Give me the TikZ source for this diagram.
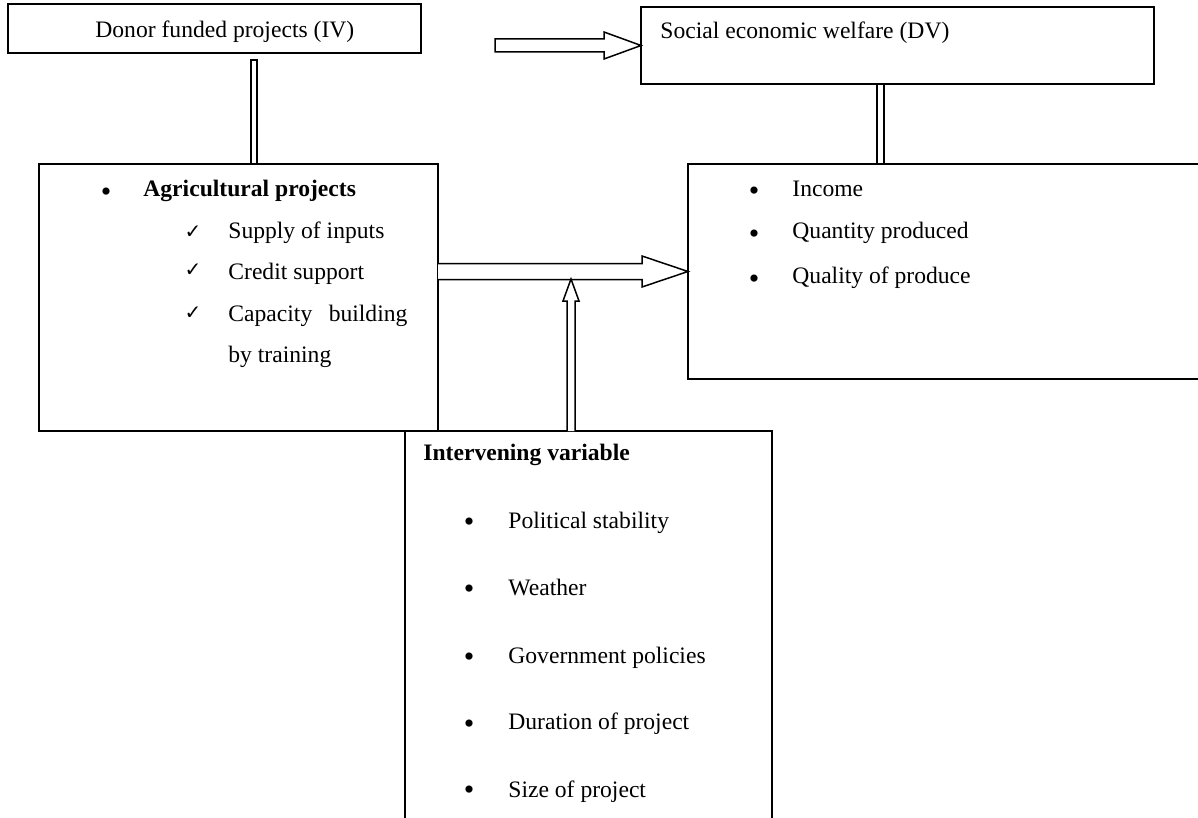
\documentclass[tikz,border=0pt]{standalone}
\usepackage{fontspec}
\setmainfont{Liberation Serif}
\newfontfamily\symfont{DejaVu Sans}
\usetikzlibrary{calc}
\begin{document}
\begin{tikzpicture}[x=0.5pt,y=-0.5pt,
  box/.style={draw=black, line width=0.9pt, inner sep=0pt, outer sep=0pt},
  blk/.style={draw=black, line width=0.75pt, fill=white, line join=miter},
  dline/.style={draw=black, line width=0.75pt, fill=white},
  txt/.style={anchor=base west, inner sep=0pt, font=\fontsize{11.8}{14}\selectfont},
  btxt/.style={txt, font=\fontsize{11.8}{14}\selectfont\bfseries},
  bul/.style={anchor=base, inner sep=0pt, font=\fontsize{15}{15}\selectfont},
  chk/.style={anchor=base, inner sep=0pt, font=\symfont\fontsize{10}{10}\selectfont}]
\useasboundingbox (0,0) rectangle (1198,818);
\clip (0,0) rectangle (1198,818);

% boxes
\node[box, minimum width=206.5pt, minimum height=24.5pt] (donor) at (214.5,28.5) {};
\node[box, minimum width=256.5pt, minimum height=38.5pt] (social) at (897.5,45.5) {};
\node[box, minimum width=199.5pt, minimum height=133.5pt] (agri) at (238.5,297.5) {};
\node[box, minimum width=261pt, minimum height=107.5pt] (res) at (949,271.5) {};
\node[box, minimum width=183.5pt, minimum height=204.5pt] (interv) at (588.5,635.5) {};

% double-line connectors
\coordinate (dl) at (254,60);
\draw[dline] ($(dl)+(-3,0)$) rectangle ($(dl |- agri.north)+(3,0)$);
\coordinate (sl) at (880.5,0);
\draw[dline] ($(social.south -| sl)+(-3.5,0)$) rectangle ($(res.north -| sl)+(3.5,0)$);

% top block arrow
\coordinate (ts) at (495,45.5);
\draw[blk] ($(ts)+(0,-6.5)$) -- ($(social.west)+(-37,-6.5)$) -- ($(social.west)+(-37,-13.5)$)
  -- (social.west) -- ($(social.west)+(-37,13.5)$) -- ($(social.west)+(-37,6.5)$)
  -- ($(ts)+(0,6.5)$) -- cycle;

% big block arrow
\coordinate (bs) at (agri.east |- res.west);
\draw[blk] ($(bs)+(0,-8)$) -- ($(res.west)+(-46,-8)$) -- ($(res.west)+(-46,-15.5)$)
  -- (res.west) -- ($(res.west)+(-46,15.5)$) -- ($(res.west)+(-46,8)$)
  -- ($(bs)+(0,8)$);

% up block arrow
\coordinate (ux) at (571,0);
\coordinate (u0) at (interv.north -| ux);
\coordinate (ut) at (571,279);
\draw[blk] ($(u0)+(-4,0)$) -- ($(ut)+(-4,22)$) -- ($(ut)+(-8,22)$) -- (ut)
  -- ($(ut)+(8,22)$) -- ($(ut)+(4,22)$) -- ($(u0)+(4,0)$);

% texts
\node[txt] (tdonor) at (95,38) {Donor funded projects (IV)};
\node[txt] (tsocial) at (660,39) {Social economic welfare (DV)};

\node[bul] (ab) at (106,202) {\textbullet};
\node[btxt] (a0) at (143,197) {Agricultural projects};
\node[chk] (c1) at (193,239) {✓};
\node[txt] (a1) at (228,238) {Supply of inputs};
\node[chk] (c2) at (193,277) {✓};
\node[txt] (a2) at (228,279) {Credit support};
\node[chk] (c3) at (193,319) {✓};
\node[txt] (a3) at (228,321) {\makebox[89.5pt][s]{Capacity\hfill building}};
\node[txt] (a4) at (228,362) {by training};

\node[bul] (rb1) at (754,201) {\textbullet};
\node[txt] (r1) at (792,197) {Income};
\node[bul] (rb2) at (754,243) {\textbullet};
\node[txt] (r2) at (792,239) {Quantity produced};
\node[bul] (rb3) at (754,288) {\textbullet};
\node[txt] (r3) at (792,283) {Quality of produce};

\node[btxt] (i0) at (423,460) {Intervening variable};
\node[bul] (ib1) at (469,531) {\textbullet};
\node[txt] (i1) at (508,528) {Political stability};
\node[bul] (ib2) at (469,598) {\textbullet};
\node[txt] (i2) at (508,595) {Weather};
\node[bul] (ib3) at (469,666) {\textbullet};
\node[txt] (i3) at (508,663) {Government policies};
\node[bul] (ib4) at (469,733) {\textbullet};
\node[txt] (i4) at (508,729) {Duration of project};
\node[bul] (ib5) at (469,799) {\textbullet};
\node[txt] (i5) at (508,797) {Size of project};
\end{tikzpicture}
\end{document}
